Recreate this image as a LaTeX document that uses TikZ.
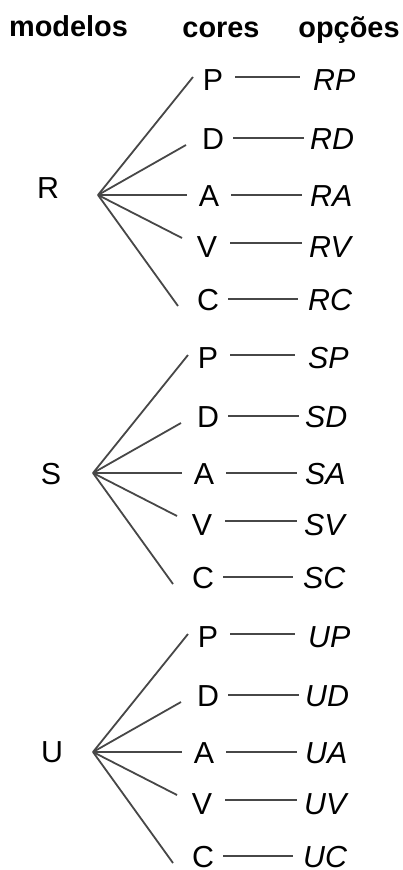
\documentclass[tikz,border=0pt]{standalone}
\usepackage{fontspec}
\setmainfont{Liberation Sans}
\begin{document}
\begin{tikzpicture}[x=1bp,y=-1bp,
  ltr/.style={font=\fontsize{30.5}{30.5}\selectfont, inner sep=0pt},
  opt/.style={font=\fontsize{30.5}{30.5}\selectfont\itshape, inner sep=0pt, anchor=west},
  hdr/.style={font=\fontsize{29}{29}\selectfont\bfseries, inner sep=0pt, anchor=base},
  edge/.style={line width=1.8bp, black!72}]
\useasboundingbox (0,0) rectangle (402,870);
\node[hdr] (hm) at (68.5,36) {modelos};
\node[hdr] (hc) at (221,37) {cores};
\node[hdr] (ho) at (349,37) {opções};
\foreach \m/\vx/\vy/\lx/\ly in {R/98/195/48/188, S/93/473/51/474, U/93/752/52/752} {
  \coordinate (v\m) at (\vx,\vy);
  \node[ltr] (m\m) at (\lx,\ly) {\m};
  \foreach \c/\lcx/\lcy/\ex/\ey/\hy/\ha/\hb/\ox in {P/115/-115/95/-118/-118/137/202/215, D/115/-56/88/-50/-57/135/206/212, A/111/1/89/0/0/133/204/212, V/109/52/84/43/48/132/204/211, C/110/105/80/111/104/130/200/210} {
    \node[ltr] (\c\m) at ({\vx+\lcx},{\vy+(\lcy)}) {\c};
    \node[opt] (o\m\c) at ({\vx+\ox},{\vy+(\lcy)}) {\m\c};
    \coordinate (e\m\c) at ({\vx+\ex},{\vy+(\ey)});
    \coordinate (ha\m\c) at ({\vx+\ha},{\vy+(\hy)});
    \coordinate (hb\m\c) at ({\vx+\hb},{\vy+(\hy)});
    \draw[edge] (v\m) -- (e\m\c);
    \draw[edge] (ha\m\c) -- (hb\m\c);
  }
}
\end{tikzpicture}
\end{document}
